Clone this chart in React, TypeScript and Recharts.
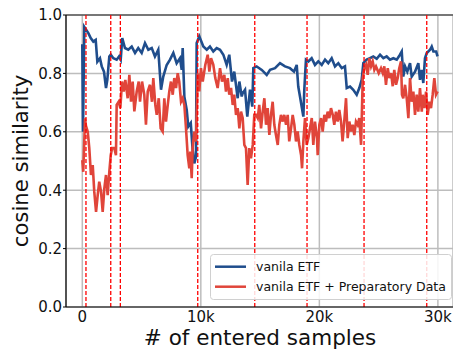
import React from "react";
import {
  LineChart,
  Line,
  XAxis,
  YAxis,
  CartesianGrid,
  ReferenceLine,
  Legend,
} from "recharts";

// # of entered samples, cosine similarity
const vanilaETF: [number, number][] = [
  [0, 0.9], [60, 0.6], [170, 0.959], [310, 0.95], [510, 0.938], [710, 0.921], [930, 0.909], [1130, 0.915],
  [1270, 0.84], [1490, 0.852], [1640, 0.824], [1830, 0.806], [2000, 0.75], [2110, 0.778], [2280, 0.858],
  [2400, 0.864], [2620, 0.852], [2900, 0.847], [3100, 0.858], [3240, 0.847], [3370, 0.921], [3600, 0.887],
  [3880, 0.881], [4170, 0.892], [4450, 0.87], [4720, 0.887], [5010, 0.87], [5290, 0.904], [5570, 0.881],
  [5860, 0.887], [6130, 0.858], [6410, 0.881], [6640, 0.744], [6830, 0.789], [7120, 0.829], [7400, 0.847],
  [7680, 0.87], [7960, 0.835], [8240, 0.852], [8390, 0.812], [8470, 0.887], [8610, 0.72], [8810, 0.675],
  [8940, 0.618], [9150, 0.63], [9310, 0.538], [9450, 0.492], [9590, 0.514], [9650, 0.904], [9870, 0.927],
  [10210, 0.892], [10500, 0.881], [10770, 0.892], [11050, 0.875], [11340, 0.887], [11620, 0.881],
  [11900, 0.864], [12180, 0.829], [12400, 0.864], [12630, 0.772], [12820, 0.806], [13110, 0.715],
  [13250, 0.772], [13450, 0.721], [13530, 0.732], [13730, 0.744], [13920, 0.652], [14150, 0.744],
  [14340, 0.686], [14430, 0.818], [14710, 0.824], [15140, 0.812], [15560, 0.795], [15840, 0.812],
  [16260, 0.818], [16680, 0.835], [17100, 0.824], [17520, 0.818], [17860, 0.806], [18090, 0.829],
  [18220, 0.755], [18370, 0.72], [18510, 0.686], [18650, 0.652], [18730, 0.744], [18870, 0.847],
  [19070, 0.841], [19350, 0.852], [19630, 0.829], [19910, 0.841], [20200, 0.829], [20480, 0.847],
  [20750, 0.835], [21040, 0.852], [21320, 0.824], [21600, 0.835], [21890, 0.818], [22160, 0.824],
  [22310, 0.75], [22590, 0.755], [22860, 0.744], [23150, 0.727], [23370, 0.75], [23570, 0.778],
  [23710, 0.835], [23990, 0.847], [24270, 0.852], [24550, 0.858], [24840, 0.85], [25120, 0.864],
  [25400, 0.852], [25680, 0.858], [25960, 0.847], [26240, 0.852], [26530, 0.847], [26800, 0.864],
  [26950, 0.875], [27080, 0.789], [27230, 0.824], [27420, 0.806], [27650, 0.835], [27790, 0.789],
  [28070, 0.806], [28350, 0.835], [28490, 0.778], [28640, 0.812], [28770, 0.767], [28910, 0.852],
  [29060, 0.87], [29340, 0.881], [29480, 0.892], [29620, 0.875], [29850, 0.875], [29970, 0.858],
];

const vanilaETFPrep: [number, number][] = [
  [0, 0.503], [80, 0.463], [230, 0.646], [310, 0.62], [460, 0.6], [590, 0.544], [730, 0.452], [880, 0.486],
  [1010, 0.395], [1160, 0.326], [1300, 0.383], [1430, 0.429], [1580, 0.395], [1720, 0.326], [1860, 0.406],
  [2000, 0.452], [2140, 0.383], [2280, 0.463], [2400, 0.52], [2510, 0.544], [2700, 0.544], [2840, 0.52],
  [2900, 0.692], [3070, 0.703], [3210, 0.681], [3350, 0.772], [3490, 0.738], [3630, 0.778], [3830, 0.715],
  [3970, 0.795], [4110, 0.703], [4250, 0.772], [4390, 0.67], [4590, 0.738], [4760, 0.772], [4870, 0.703],
  [5040, 0.772], [5230, 0.727], [5370, 0.624], [5520, 0.738], [5710, 0.761], [5880, 0.703], [5990, 0.784],
  [6160, 0.692], [6280, 0.658], [6450, 0.715], [6610, 0.612], [6780, 0.601], [6920, 0.715], [7060, 0.635],
  [7210, 0.692], [7340, 0.738], [7480, 0.772], [7630, 0.727], [7760, 0.784], [7910, 0.75], [8050, 0.801],
  [8180, 0.772], [8330, 0.703], [8470, 0.715], [8610, 0.692], [8750, 0.612], [8890, 0.52], [9030, 0.475],
  [9110, 0.532], [9230, 0.441], [9310, 0.544], [9450, 0.601], [9590, 0.567], [9740, 0.8], [9870, 0.738],
  [10010, 0.818], [10160, 0.772], [10380, 0.83], [10580, 0.864], [10720, 0.806], [10860, 0.852],
  [11050, 0.83], [11220, 0.784], [11420, 0.75], [11620, 0.818], [11790, 0.772], [11980, 0.795],
  [12120, 0.738], [12270, 0.784], [12400, 0.727], [12550, 0.75], [12690, 0.692], [12820, 0.727],
  [12970, 0.658], [13110, 0.681], [13250, 0.612], [13390, 0.669], [13530, 0.647], [13670, 0.555],
  [13810, 0.544], [13950, 0.418], [14090, 0.544], [14230, 0.509], [14380, 0.555], [14510, 0.658],
  [14660, 0.658], [14800, 0.647], [14930, 0.692], [15080, 0.612], [15220, 0.669], [15360, 0.715],
  [15500, 0.624], [15640, 0.681], [15780, 0.589], [15920, 0.658], [16060, 0.703], [16200, 0.624],
  [16340, 0.589], [16490, 0.555], [16620, 0.624], [16760, 0.658], [16910, 0.635], [17040, 0.658],
  [17190, 0.624], [17330, 0.658], [17460, 0.567], [17610, 0.612], [17750, 0.658], [17890, 0.624],
  [18030, 0.567], [18170, 0.601], [18310, 0.555], [18460, 0.52], [18540, 0.475], [18650, 0.567],
  [18790, 0.647], [18930, 0.555], [19070, 0.578], [19210, 0.612], [19360, 0.647], [19490, 0.555],
  [19630, 0.635], [19800, 0.578], [19860, 0.52], [20000, 0.624], [20140, 0.647], [20280, 0.601],
  [20420, 0.658], [20560, 0.635], [20700, 0.669], [20840, 0.647], [20980, 0.681], [21130, 0.658],
  [21260, 0.624], [21400, 0.669], [21550, 0.635], [21680, 0.675], [21830, 0.635], [21960, 0.567],
  [22100, 0.635], [22250, 0.715], [22390, 0.578], [22530, 0.635], [22670, 0.601], [22810, 0.624],
  [22950, 0.589], [23090, 0.635], [23230, 0.624], [23370, 0.647], [23520, 0.555], [23660, 0.784],
  [23790, 0.818], [23940, 0.83], [24080, 0.795], [24210, 0.852], [24360, 0.824], [24500, 0.841],
  [24640, 0.812], [24780, 0.824], [25010, 0.801], [25200, 0.818], [25350, 0.801], [25480, 0.824],
  [25620, 0.761], [25770, 0.818], [25900, 0.784], [26050, 0.801], [26190, 0.756], [26320, 0.812],
  [26470, 0.761], [26610, 0.784], [26740, 0.818], [26890, 0.841], [26970, 0.727], [27080, 0.715],
  [27230, 0.761], [27370, 0.715], [27510, 0.647], [27650, 0.784], [27790, 0.703], [27930, 0.738],
  [28070, 0.658], [28210, 0.727], [28350, 0.669], [28490, 0.75], [28640, 0.669], [28720, 0.727],
  [28860, 0.681], [29000, 0.738], [29140, 0.658], [29280, 0.703], [29420, 0.681], [29560, 0.727],
  [29700, 0.784], [29840, 0.727], [29980, 0.738],
];

const taskBoundaries: number[] = [310, 2400, 3210, 9740, 14550, 18960, 23770, 29060];

const xTicks: number[] = [0, 10000, 20000, 30000];
const yTicks: number[] = [0, 0.2, 0.4, 0.6, 0.8, 1.0];

const seriesNames = ["vanila ETF", "vanila ETF + Preparatory Data"];

const BLUE = "#1f4d8c";
const RED = "#e0453a";
const FONT = "DejaVu Sans, sans-serif";

const blueData = vanilaETF.map(([x, v]) => ({ x, v }));
const redData = vanilaETFPrep.map(([x, v]) => ({ x, v }));

const LegendBox = () => (
  <svg width={242} height={46} style={{ display: "block" }}>
    <rect x={0.5} y={0.5} width={241} height={45} rx={3} ry={3} fill="rgba(255,255,255,0.85)" stroke="#d0d0d0" strokeWidth={1} />
    <line x1={5} x2={36} y1={12.7} y2={12.7} stroke={BLUE} strokeWidth={2.5} />
    <line x1={5} x2={36} y1={32.7} y2={32.7} stroke={RED} strokeWidth={2.5} />
    <text x={46} y={12.7} dominantBaseline="central" fontFamily={FONT} fontSize={12.5} fill="#111">
      {seriesNames[0]}
    </text>
    <text x={46} y={32.7} dominantBaseline="central" fontFamily={FONT} fontSize={12.5} fill="#111">
      {seriesNames[1]}
    </text>
  </svg>
);

export default function App() {
  return (
    <div style={{ position: "absolute", left: 0, top: 0, width: 453, height: 349, background: "#fff" }}>
      <LineChart width={453} height={349} margin={{ top: 15, right: 0, bottom: 0, left: 0 }}>
        <CartesianGrid stroke="#bdbdbd" strokeWidth={1.5} />
        <XAxis
          dataKey="x"
          type="number"
          domain={[-1375, 31275]}
          allowDataOverflow
          ticks={xTicks}
          tickFormatter={(t: number) => (t === 0 ? "0" : `${t / 1000}k`)}
          height={42}
          tickLine={false}
          tickSize={4}
          tickMargin={0}
          axisLine={{ stroke: "#000", strokeWidth: 1.2 }}
          tick={{ fill: "#111", fontSize: 15, fontFamily: FONT }}
          label={{
            content: () => (
              <text x={260} y={344.5} textAnchor="middle" fontFamily={FONT} fontSize={21.5} fill="#111">
                # of entered samples
              </text>
            ),
          }}
        />
        <YAxis
          type="number"
          domain={[0, 1]}
          allowDataOverflow
          ticks={yTicks}
          tickFormatter={(t: number) => t.toFixed(1)}
          width={66}
          tickLine={{ stroke: "#000", strokeWidth: 1 }}
          tickSize={3}
          tickMargin={1}
          axisLine={{ stroke: "#000", strokeWidth: 1.2 }}
          tick={{ fill: "#111", fontSize: 15, fontFamily: FONT }}
          label={{
            content: () => (
              <text
                x={28.3}
                y={161}
                transform="rotate(-90 28.3 161)"
                textAnchor="middle"
                fontFamily={FONT}
                fontSize={21.2}
                fill="#111"
              >
                cosine similarity
              </text>
            ),
          }}
        />
        <ReferenceLine y={1} stroke="#222" strokeWidth={1.2} />
        <Line
          data={blueData}
          dataKey="v"
          type="linear"
          stroke={BLUE}
          strokeWidth={2.6}
          dot={false}
          isAnimationActive={false}
          name={seriesNames[0]}
        />
        <Line
          data={redData}
          dataKey="v"
          type="linear"
          stroke={RED}
          strokeWidth={2.6}
          dot={false}
          isAnimationActive={false}
          name={seriesNames[1]}
        />
        {taskBoundaries.map((b) => (
          <ReferenceLine key={b} x={b} stroke="#ff0000" strokeWidth={1.3} strokeDasharray="4 2" />
        ))}
        <Legend
          layout="horizontal"
          verticalAlign="middle"
          align="center"
          content={() => <LegendBox />}
          wrapperStyle={{ left: 210, top: 254, width: 242, height: 46 }}
        />
      </LineChart>
    </div>
  );
}
